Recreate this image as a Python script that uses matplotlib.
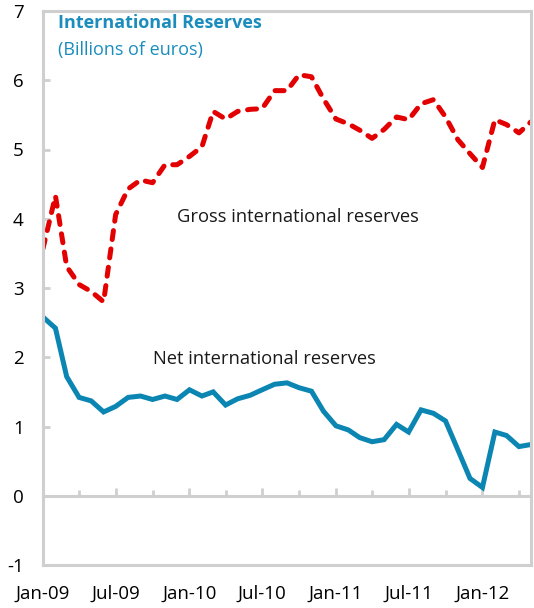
import pandas as pd
import matplotlib.pyplot as plt
import matplotlib.dates as mdates

plt.rcParams['font.family'] = ['Open Sans', 'DejaVu Sans']

# monthly, Jan-09 .. May-12
months = pd.date_range("2009-01-01", periods=41, freq="MS")

gross = [3.57, 4.33, 3.31, 3.05, 2.95, 2.80, 4.06, 4.43, 4.56, 4.52,
         4.78, 4.78, 4.90, 5.04, 5.55, 5.44, 5.55, 5.58, 5.59, 5.85,
         5.85, 6.08, 6.05, 5.73, 5.44, 5.37, 5.28, 5.16, 5.29, 5.47,
         5.43, 5.66, 5.72, 5.47, 5.14, 4.94, 4.74, 5.43, 5.36, 5.24, 5.40]

net = [2.58, 2.42, 1.72, 1.42, 1.37, 1.21, 1.29, 1.42, 1.44, 1.39,
       1.44, 1.39, 1.53, 1.44, 1.50, 1.31, 1.40, 1.45, 1.53, 1.61,
       1.63, 1.56, 1.51, 1.22, 1.01, 0.95, 0.84, 0.78, 0.81, 1.03,
       0.92, 1.24, 1.19, 1.08, 0.66, 0.25, 0.12, 0.92, 0.87, 0.71, 0.74]

red = '#e30000'
blue = '#0b86b3'
grey = '#cfcfcf'

fig = plt.figure(figsize=(5.34, 6.08), dpi=100)
ax = fig.add_axes([43 / 534, 43 / 608, 488 / 534, 554 / 608])

ax.plot(months, gross, color=red, lw=3.6, dashes=(1.8, 1.9),
        dash_capstyle='round', solid_capstyle='round')
ax.plot(months, net, color=blue, lw=3.6, solid_joinstyle='miter')

ax.set_xlim(months[0], months[-1])
ax.set_ylim(-1, 7)

for s in ax.spines.values():
    s.set_color(grey)
    s.set_linewidth(2.2)

ax.set_yticks(range(-1, 8))
ax.tick_params(axis='y', direction='in', length=5, width=2, color=grey,
               labelsize=13.5, pad=14)
ax.set_yticklabels(['-1', '0', '1', '2', '3', '4', '5', '6', '7'])

# labels along the bottom, no marks there
ax.xaxis.set_major_locator(mdates.MonthLocator(bymonth=[1, 7]))
ax.xaxis.set_major_formatter(mdates.DateFormatter('%b-%y'))
ax.tick_params(axis='x', length=0, labelsize=13.5, pad=14)

# zero line carries the tick marks
zax = ax.secondary_xaxis(1 / 8)
zax.spines['bottom'].set_color(grey)
zax.spines['bottom'].set_linewidth(2.2)
zax.xaxis.set_major_locator(mdates.MonthLocator(bymonth=[1, 7]))
zax.xaxis.set_minor_locator(mdates.MonthLocator(bymonth=[4, 10]))
zax.tick_params(which='major', direction='in', length=6, width=2, color=grey,
                labelbottom=False)
zax.tick_params(which='minor', direction='in', length=4, width=2, color=grey)

ax.text(0.03, 0.995, 'International Reserves', transform=ax.transAxes,
        color='#1a8dbd', fontsize=13, fontweight='bold', va='top')
ax.text(0.03, 0.946, '(Billions of euros)', transform=ax.transAxes,
        color='#1a8dbd', fontsize=13, va='top')

ax.text(months[11], 4.03, 'Gross international reserves', fontsize=13.2,
        color='#1a1a1a', va='center')
ax.text(months[9], 1.97, 'Net international reserves', fontsize=13.2,
        color='#1a1a1a', va='center')

fig.savefig('out.png', dpi=100)
